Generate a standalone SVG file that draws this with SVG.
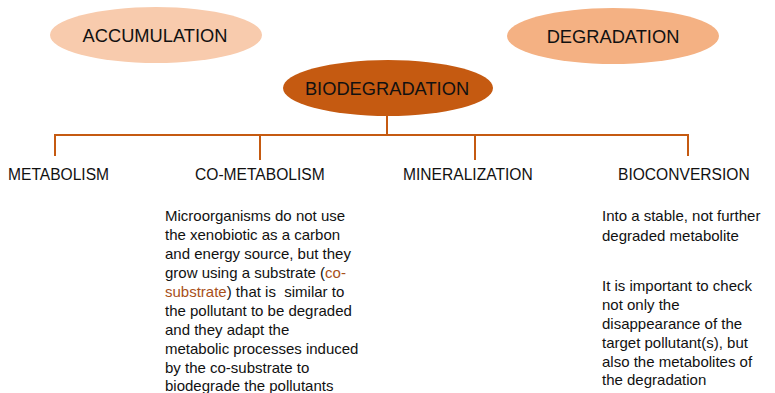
<svg xmlns="http://www.w3.org/2000/svg" width="775" height="393" viewBox="0 0 775 393">
<style>
.lbl{font-family:"Comic Sans MS","Liberation Sans",sans-serif;fill:#111;}
.big{font-size:18.3px;text-anchor:middle;}
.mid{font-size:15.6px;}
.body{font-size:15px;}
.conn{stroke:#C55A11;stroke-width:2;fill:none;}
.hl{fill:#A8501A;}
</style>
<rect width="775" height="393" fill="#fff"/>
<g id="accumulation">
<ellipse cx="156" cy="35" rx="106" ry="28" fill="#F8CBAD"/>
<text class="lbl big" x="155" y="42">ACCUMULATION</text>
</g>
<g id="degradation">
<ellipse cx="613" cy="36" rx="106" ry="28" fill="#F4B183"/>
<text class="lbl big" x="613" y="43">DEGRADATION</text>
</g>
<g id="biodegradation">
<ellipse cx="388" cy="88" rx="105" ry="28" fill="#C55A11"/>
<text class="lbl big" x="387" y="95">BIODEGRADATION</text>
</g>
<g id="connectors">
<path class="conn" d="M387 116 V135"/>
<path class="conn" d="M55 156 V135 H688 V156"/>
<path class="conn" d="M260 135 V160"/>
<path class="conn" d="M475 135 V160"/>
</g>
<g id="metabolism">
<text class="lbl mid" x="8" y="180">METABOLISM</text>
</g>
<g id="co-metabolism">
<text class="lbl mid" x="195" y="180">CO-METABOLISM</text>
<text class="lbl body" x="165" y="221">Microorganisms do not use</text>
<text class="lbl body" x="165" y="240">the xenobiotic as a carbon</text>
<text class="lbl body" x="165" y="259">and energy source, but they</text>
<text class="lbl body" x="165" y="278">grow using a substrate (<tspan class="hl">co-</tspan></text>
<text class="lbl body" x="165" y="297"><tspan class="hl">substrate</tspan>) that is&#160; similar to</text>
<text class="lbl body" x="165" y="316">the pollutant to be degraded</text>
<text class="lbl body" x="165" y="335">and they adapt the</text>
<text class="lbl body" x="165" y="354">metabolic processes induced</text>
<text class="lbl body" x="165" y="373">by the co-substrate to</text>
<text class="lbl body" x="165" y="391">biodegrade the pollutants</text>
</g>
<g id="mineralization">
<text class="lbl mid" x="403" y="180">MINERALIZATION</text>
</g>
<g id="bioconversion">
<text class="lbl mid" x="618" y="180">BIOCONVERSION</text>
<text class="lbl body" x="602" y="221">Into a stable, not further</text>
<text class="lbl body" x="602" y="241">degraded metabolite</text>
<text class="lbl body" x="602" y="291">It is important to check</text>
<text class="lbl body" x="602" y="310">not only the</text>
<text class="lbl body" x="602" y="329">disappearance of the</text>
<text class="lbl body" x="602" y="348">target pollutant(s), but</text>
<text class="lbl body" x="602" y="367">also the metabolites of</text>
<text class="lbl body" x="602" y="385">the degradation</text>
</g>
</svg>
